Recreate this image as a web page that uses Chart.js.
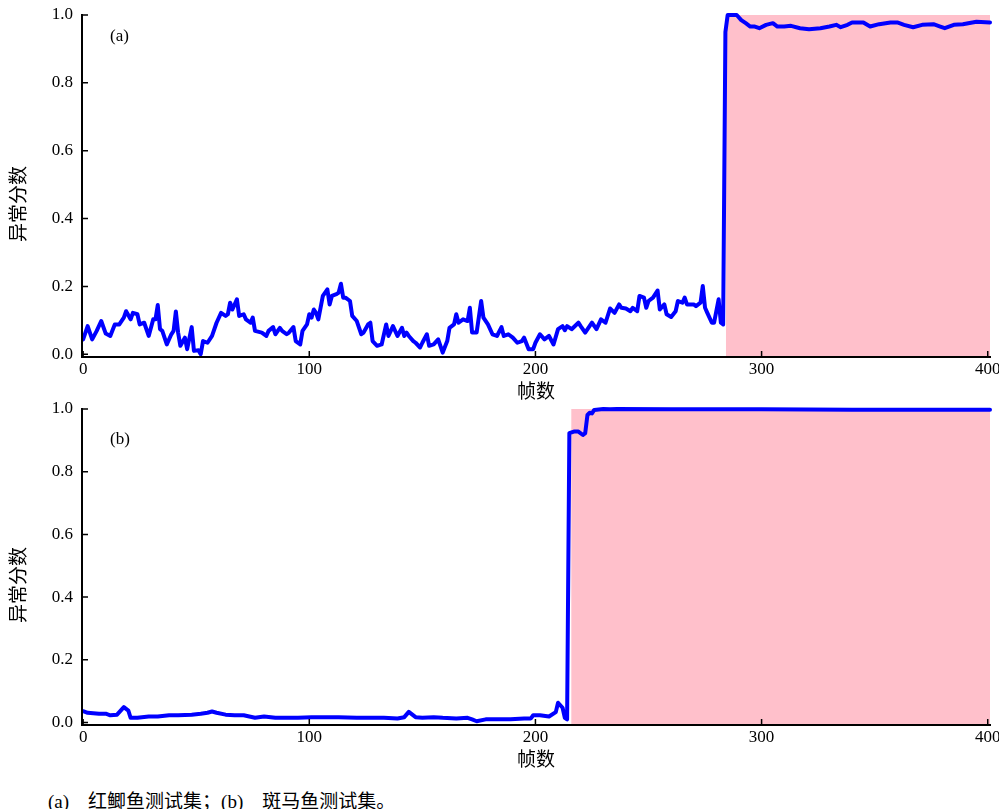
<!DOCTYPE html>
<html>
<head>
<meta charset="utf-8">
<script src="https://cdn.jsdelivr.net/npm/chart.js@4.4.1/dist/chart.umd.min.js"></script>
<style>
  html, body { margin: 0; padding: 0; background: #fff; overflow: hidden; }
  body { width: 999px; height: 809px; position: relative; }
  canvas { position: absolute; left: 0; }
  #chart_a { top: 0; }
  #chart_b { top: 394px; }
  #caption { position: absolute; left: 48px; top: 786px; font: 19px 'Liberation Serif', 'Noto Sans CJK SC', serif; color: #000; white-space: pre; }
</style>
</head>
<body>
<canvas id="chart_a" width="999" height="404"></canvas>
<canvas id="chart_b" width="999" height="378"></canvas>
<div id="caption">(a)　红鲫鱼测试集；(b)　斑马鱼测试集。</div>
<script>
// (a) red crucian carp test set
const framesA = [
    0, 2, 4, 6, 8, 10, 12, 14, 16, 18,
    19, 21, 22, 24, 25, 27, 29, 31, 32, 33,
    34, 35, 37, 39, 40, 41, 42, 43, 45, 46,
    48, 49, 51, 52, 53, 55, 57, 59, 61, 63,
    64, 65, 66, 68, 69, 71, 72, 74, 75, 76,
    79, 81, 82, 84, 85, 87, 88, 90, 91, 93,
    94, 96, 97, 99, 100, 101, 102, 103, 104, 106,
    108, 109, 110, 112, 113, 114, 115, 116, 118, 119,
    121, 123, 124, 126, 127, 128, 130, 132, 134, 135,
    137, 139, 141, 142, 143, 144, 146, 147, 149, 150,
    152, 153, 155, 157, 159, 161, 162, 164, 165, 166,
    168, 170, 171, 172, 174, 176, 177, 179, 181, 183,
    185, 186, 188, 190, 192, 194, 195, 197, 199, 200,
    202, 204, 206, 208, 210, 212, 213, 214, 216, 219,
    220, 222, 225, 227, 229, 231, 233, 235, 237, 238,
    240, 242, 243, 245, 246, 248, 249, 250, 252, 254,
    255, 257, 258, 260, 262, 263, 265, 266, 267, 270,
    271, 273, 274, 275, 276, 278, 279, 281, 282, 283,
    284, 285, 289, 291, 293, 295, 297, 299, 302, 305,
    307, 310, 313, 317, 321, 326, 330, 333, 335, 338,
    340, 345, 348, 352, 357, 360, 363, 367, 371, 376,
    379, 381, 385, 389, 395, 401
];
const scoresA = [
    0.044, 0.083, 0.044, 0.069, 0.098, 0.061, 0.054, 0.088, 0.088, 0.108,
    0.127, 0.103, 0.122, 0.118, 0.088, 0.093, 0.054, 0.103, 0.103, 0.145,
    0.074, 0.069, 0.029, 0.059, 0.069, 0.126, 0.064, 0.025, 0.049, 0.015,
    0.080, 0.010, 0.012, 0.000, 0.039, 0.034, 0.054, 0.093, 0.122, 0.113,
    0.118, 0.152, 0.132, 0.162, 0.113, 0.118, 0.103, 0.093, 0.108, 0.069,
    0.064, 0.054, 0.069, 0.080, 0.059, 0.078, 0.069, 0.059, 0.064, 0.080,
    0.039, 0.029, 0.069, 0.088, 0.118, 0.108, 0.132, 0.122, 0.103, 0.172,
    0.191, 0.147, 0.172, 0.177, 0.182, 0.208, 0.167, 0.167, 0.157, 0.113,
    0.098, 0.059, 0.064, 0.088, 0.093, 0.039, 0.025, 0.029, 0.088, 0.054,
    0.083, 0.054, 0.078, 0.054, 0.064, 0.054, 0.039, 0.034, 0.020, 0.034,
    0.059, 0.025, 0.029, 0.044, 0.005, 0.039, 0.078, 0.088, 0.118, 0.093,
    0.103, 0.098, 0.137, 0.064, 0.064, 0.157, 0.108, 0.088, 0.059, 0.054,
    0.080, 0.054, 0.059, 0.049, 0.034, 0.039, 0.049, 0.015, 0.015, 0.034,
    0.059, 0.044, 0.054, 0.029, 0.074, 0.083, 0.071, 0.083, 0.074, 0.093,
    0.083, 0.064, 0.093, 0.074, 0.103, 0.093, 0.135, 0.122, 0.147, 0.137,
    0.135, 0.127, 0.137, 0.127, 0.172, 0.167, 0.137, 0.157, 0.167, 0.188,
    0.132, 0.147, 0.118, 0.110, 0.127, 0.157, 0.152, 0.167, 0.147, 0.147,
    0.142, 0.152, 0.201, 0.137, 0.122, 0.093, 0.093, 0.162, 0.093, 0.088,
    0.950, 1.000, 1.000, 0.985, 0.976, 0.966, 0.966, 0.961, 0.971, 0.976,
    0.966, 0.966, 0.968, 0.961, 0.958, 0.961, 0.966, 0.971, 0.964, 0.971,
    0.978, 0.978, 0.966, 0.973, 0.978, 0.978, 0.971, 0.964, 0.971, 0.973,
    0.966, 0.961, 0.971, 0.973, 0.980, 0.978
];

// (b) zebrafish test set
const framesB = [
    0, 2, 7, 10, 12, 15, 17, 18, 20, 21,
    24, 26, 29, 33, 38, 42, 48, 52, 55, 57,
    59, 63, 67, 71, 76, 80, 85, 89, 95, 101,
    107, 113, 121, 127, 133, 139, 142, 144, 147, 150,
    155, 159, 165, 170, 172, 174, 178, 183, 189, 195,
    198, 199, 202, 206, 209, 210, 212, 213, 214, 215,
    217, 219, 221, 222, 223, 224, 225, 226, 230, 233,
    236, 260, 300, 340, 380, 401
];
const scoresB = [
    0.036, 0.031, 0.028, 0.028, 0.023, 0.025, 0.041, 0.049, 0.038, 0.015,
    0.015, 0.017, 0.019, 0.019, 0.023, 0.023, 0.025, 0.028, 0.031, 0.035,
    0.031, 0.025, 0.023, 0.023, 0.015, 0.019, 0.015, 0.015, 0.015, 0.017,
    0.017, 0.017, 0.015, 0.015, 0.015, 0.013, 0.017, 0.034, 0.017, 0.015,
    0.017, 0.015, 0.013, 0.015, 0.010, 0.004, 0.010, 0.010, 0.010, 0.013,
    0.013, 0.023, 0.023, 0.019, 0.033, 0.063, 0.047, 0.015, 0.010, 0.923,
    0.928, 0.928, 0.917, 0.923, 0.981, 0.988, 0.986, 0.997, 1.000, 0.999,
    1.000, 0.999, 0.999, 0.998, 0.998, 0.998
];

// anomaly (shaded) segment: first frame, last frame
const anomalyA = [284.2, 401];
const anomalyB = [215.8, 401];

const xTicks = [0, 100, 200, 300, 400];
const yTicks = [0, 0.2, 0.4, 0.6, 0.8, 1.0];
const xLabel = "帧数";
const yLabel = "异常分数";

const fontFamily = "'Liberation Serif', 'Noto Sans CJK SC', serif";
const numFont = { family: fontFamily, size: 17 };
const cjkFont = { family: fontFamily, size: 19 };

// inward tick marks, the (a)/(b) tag and the y title
const innerTicks = {
    id: 'innerTicks',
    afterDraw(chart, args, opts) {
        const ctx = chart.ctx;
        const area = chart.chartArea;
        const xs = chart.scales.x, ys = chart.scales.y;
        ctx.save();
        ctx.strokeStyle = '#000';
        ctx.lineWidth = 1.5;
        ctx.beginPath();
        xs.ticks.forEach((t, i) => {
            const px = xs.getPixelForTick(i);
            ctx.moveTo(px, area.bottom);
            ctx.lineTo(px, area.bottom - 6);
        });
        ys.ticks.forEach((t, i) => {
            const py = ys.getPixelForTick(i);
            ctx.moveTo(area.left, py);
            ctx.lineTo(area.left + 6, py);
        });
        ctx.stroke();
        ctx.fillStyle = '#000';
        ctx.font = "17px 'Liberation Serif', serif";
        ctx.textBaseline = 'middle';
        ctx.fillText(opts.text, area.left + opts.dx, area.top + opts.dy);

        ctx.font = "19px " + fontFamily;
        ctx.textAlign = 'center';
        ctx.translate(20, (area.top + area.bottom) / 2 + opts.titleShift);
        ctx.rotate(-Math.PI / 2);
        ctx.fillText(yLabel, 0, 0);
        ctx.restore();
    }
};

function makeChart(id, frames, scores, anomaly, tag, tagDy) {
    const points = frames.map((f, i) => ({ x: f, y: scores[i] }));
    const shade = anomaly.map(f => ({ x: f, y: 1 }));
    return new Chart(document.getElementById(id), {
        type: 'line',
        data: {
            datasets: [
                { data: points, borderColor: '#0000ff', borderWidth: 4, pointRadius: 0,
                  tension: 0, fill: false, clip: false, borderJoinStyle: 'round', borderCapStyle: 'round', order: 1 },
                { data: shade, borderWidth: 0, pointRadius: 0, fill: 'start',
                  backgroundColor: '#ffc0cb', order: 2 }
            ]
        },
        options: {
            responsive: false,
            animation: false,
            events: [],
            layout: { padding: { top: 15, right: 9, left: 0, bottom: 0 } },
            plugins: {
                legend: { display: false },
                tooltip: { enabled: false },
                innerTicks: { text: tag, dx: 28, dy: tagDy, titleShift: 18 }
            },
            scales: {
                x: {
                    type: 'linear', min: -0.5, max: 401,
                    afterBuildTicks: s => { s.ticks = xTicks.map(v => ({ value: v })); },
                    afterFit: s => { s.height = 47; s.paddingLeft = 0; s.paddingRight = 0; },
                    ticks: { font: numFont, color: '#000', padding: 2, maxRotation: 0, autoSkip: false,
                             callback: v => String(v) },
                    grid: { display: false, drawTicks: false },
                    border: { display: true, color: '#000', width: 2, z: 1 },
                    title: { display: true, text: xLabel, font: cjkFont, color: '#000', padding: 0 }
                },
                y: {
                    type: 'linear', min: -0.008, max: 1.0,
                    afterBuildTicks: s => { s.ticks = yTicks.map(v => ({ value: v })); },
                    afterFit: s => { s.width = 82; s.paddingTop = 0; s.paddingBottom = 0; },
                    ticks: { font: numFont, color: '#000', padding: 9, callback: v => v.toFixed(1) },
                    grid: { display: false, drawTicks: false },
                    border: { display: true, color: '#000', width: 2, z: 1 }
                }
            }
        },
        plugins: [innerTicks]
    });
}

makeChart('chart_a', framesA, scoresA, anomalyA, '(a)', 22);
makeChart('chart_b', framesB, scoresB, anomalyB, '(b)', 31);
</script>
</body>
</html>
